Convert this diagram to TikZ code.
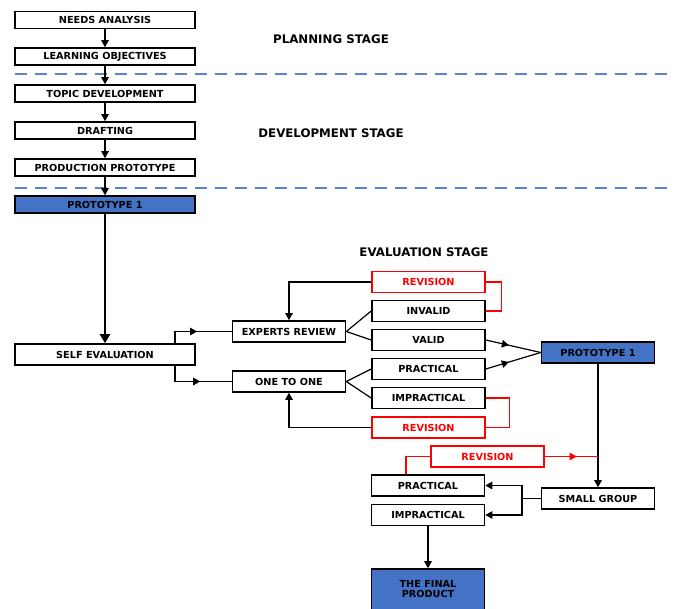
\documentclass[tikz,border=0pt]{standalone}
\usepackage{fontspec}
\setmainfont{DejaVu Sans}
\usetikzlibrary{arrows.meta,decorations.markings}
\definecolor{pblue}{HTML}{4472C4}
\definecolor{dblue}{HTML}{5B84D0}
\definecolor{rred}{HTML}{FF0000}
\tikzset{
  x=1pt,y=-1pt,
  box/.style={draw=black,line width=1.6pt,minimum height=17pt,inner sep=0pt,font=\fontsize{9.7}{10}\bfseries},
  lbox/.style={box,minimum width=180pt},
  rbox/.style={box,minimum width=113pt,minimum height=21pt},
  bluebox/.style={fill=pblue},
  redbox/.style={rbox,draw=rred,text=rred},
  stagelbl/.style={font=\fontsize{11.8}{13}\bfseries,inner sep=0pt},
  conn/.style={line width=1.2pt,draw=black},
  tip/.style={-{Triangle[length=7pt,width=7.5pt]}},
  midarrow/.style={postaction={decorate},decoration={markings,mark=at position #1 with {\arrow{Triangle[length=7pt,width=7.5pt]}}}},
  sep/.style={draw=dblue,line width=1.2pt,dash pattern=on 12pt off 8pt},
}
\begin{document}
\begin{tikzpicture}
\useasboundingbox (0,0) rectangle (674,609);
\clip (0,0) rectangle (674,609);
% left column
\node[lbox,minimum height=17pt] (na) at (105,20) {NEEDS ANALYSIS};
\node[lbox] (lo) at (105,56.5) {LEARNING OBJECTIVES};
\node[lbox] (td) at (105,93.5) {TOPIC DEVELOPMENT};
\node[lbox] (dr) at (105,130.5) {DRAFTING};
\node[lbox] (pp) at (105,167.5) {PRODUCTION PROTOTYPE};
\node[lbox,bluebox] (p1) at (105,204.5) {PROTOTYPE 1};
\node[lbox,minimum height=21pt] (se) at (105,354.5) {SELF EVALUATION};
% separators
\coordinate (s1a) at (15,74); \coordinate (s1b) at (674,74);
\coordinate (s2a) at (15,188); \coordinate (s2b) at (674,188);
\draw[sep] (s1a) -- (s1b);
\draw[sep] (s2a) -- (s2b);
% stage labels
\node[stagelbl] (ps) at (331,39) {PLANNING STAGE};
\node[stagelbl] (ds) at (331,133) {DEVELOPMENT STAGE};
\node[stagelbl] (es) at (424,252) {EVALUATION STAGE};
% left arrows
\draw[conn,tip] (na) -- (lo);
\draw[conn,tip] (lo) -- (td);
\draw[conn,tip] (td) -- (dr);
\draw[conn,tip] (dr) -- (pp);
\draw[conn,tip] (pp) -- (p1);
\draw[line width=2.6pt,-{Triangle[length=9pt,width=10pt]}] (p1) -- (se);
% middle
\node[rbox] (er) at (289,331.5) {EXPERTS REVIEW};
\node[rbox] (oo) at (289,381.5) {ONE TO ONE};
\coordinate (seA) at (175,344);
\coordinate (seB) at (175,365);
\draw[conn,midarrow=0.5] (seA) |- (er.west);
\draw[conn,midarrow=0.57] (seB) |- (oo.west);
% right column
\node[redbox] (rv1) at (428.5,282) {REVISION};
\node[rbox] (inv) at (428.5,311) {INVALID};
\node[rbox] (val) at (428.5,340) {VALID};
\node[rbox] (pr) at (428.5,369) {PRACTICAL};
\node[rbox] (ipr) at (428.5,398) {IMPRACTICAL};
\node[redbox] (rv2) at (428.5,427.5) {REVISION};
\draw[conn] (er.east) -- (inv.west);
\draw[conn] (er.east) -- (val.west);
\draw[conn] (oo.east) -- (pr.west);
\draw[conn] (oo.east) -- (ipr.west);
\draw[conn,tip] (rv1.west) -| (er.north);
\draw[conn,tip] (rv2.west) -| (oo.south);
\draw[line width=1.2pt,rred] (inv.east) -- ++(16,0) |- (rv1.east);
\draw[line width=1.2pt,rred] (ipr.east) -- ++(24,0) |- (rv2.east);
% prototype 1 right
\node[rbox,bluebox] (p1b) at (598,352.5) {PROTOTYPE 1};
\draw[conn,midarrow=0.42] (val.east) -- (p1b.west);
\draw[conn,midarrow=0.42] (pr.east) -- (p1b.west);
% small group
\node[rbox] (sg) at (598,498.5) {SMALL GROUP};
\draw[conn,tip] (p1b) -- (sg);
\node[rbox] (pr2) at (428,485.5) {PRACTICAL};
\node[rbox] (ipr2) at (428,515) {IMPRACTICAL};
\node[redbox] (rv3) at (487.5,456.5) {REVISION};
\coordinate (br) at (522,498.5);
\draw[conn] (sg.west) -- (br);
\draw[conn,tip] (br) |- (pr2.east);
\draw[conn,tip] (br) |- (ipr2.east);
\draw[line width=1.2pt,rred] (pr2.north -| 406,0) |- (rv3.west);
\coordinate (rv3e) at (598,456.5);
\draw[line width=1.2pt,rred,midarrow=0.6] (rv3.east) -- (rv3e);
% final product
\node[rbox,bluebox,minimum height=48pt] (fp) at (428,593) {};
\node[inner sep=0pt,align=center,font=\fontsize{9.7}{10.5}\bfseries] (fpt) at (428,589) {THE FINAL\\PRODUCT};
\draw[conn,tip] (ipr2) -- (fp);
\end{tikzpicture}
\end{document}
